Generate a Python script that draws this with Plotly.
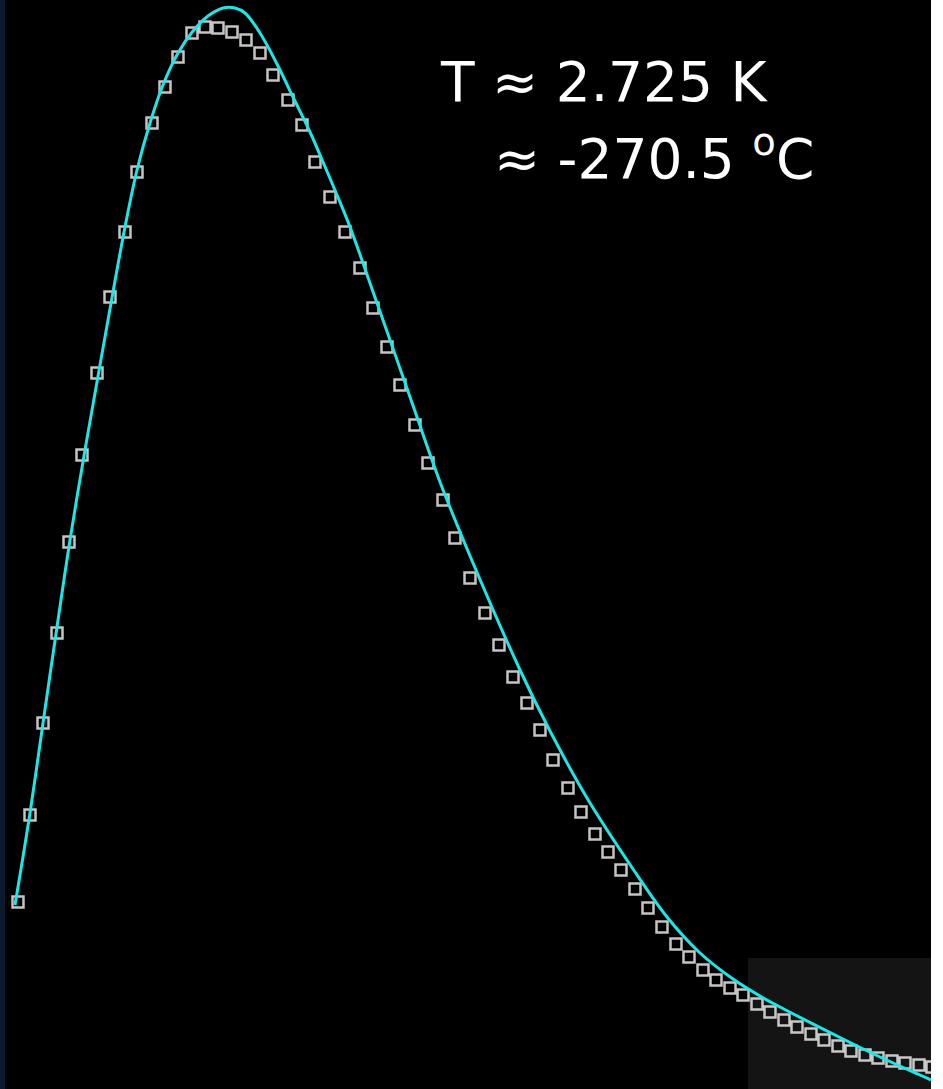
import plotly.graph_objects as go

# Measured spectrum (arbitrary frequency units, arbitrary intensity units)
freq_data = [18, 30, 43, 57, 69, 82, 97, 110, 125, 137, 152, 165, 178, 192, 205, 218, 232, 246,
             260, 273, 288, 302, 315, 330, 345, 360, 373, 387, 400, 415, 428, 443, 455, 470, 485,
             499, 513, 527, 540, 553, 568, 581, 595, 608, 621, 635, 648, 662, 676, 689, 703, 716,
             730, 743, 757, 770, 784, 797, 811, 824, 838, 851, 865, 878, 892, 905, 919, 932]
intensity_data = [183, 270, 362, 452, 543, 630, 712, 788, 853, 913, 962, 998, 1028, 1052, 1058, 1057,
                  1053, 1045, 1032, 1010, 985, 960, 923, 888, 853, 817, 777, 738, 700, 660, 622, 585,
                  547, 507, 472, 440, 408, 382, 355, 325, 297, 273, 251, 233, 215, 196, 177, 158, 141,
                  128, 115, 105, 97, 90, 81, 73, 65, 58, 51, 45, 39, 34, 30, 27, 24, 22, 20, 18]

# Blackbody curve (T = 2.725 K)
freq_fit = [15, 30, 43, 57, 70, 85, 100, 113, 125, 137, 150, 163, 178, 193, 208, 223, 235, 245, 260,
            277, 293, 310, 323, 337, 350, 377, 410, 440, 473, 520, 550, 587, 633, 667, 700,
            733, 760, 780, 843, 880, 920, 931]
intensity_fit = [180, 272, 362, 458, 545, 635, 720, 793, 858, 915, 962, 1000, 1032, 1054, 1069, 1077,
                 1077, 1072, 1052, 1021, 988, 953, 923, 890, 858, 782, 688, 603, 522, 415, 354, 287,
                 216, 168, 132, 106, 89, 78, 46, 28, 10, 5]

label_line1 = "T ≈ 2.725 K"
label_line2 = "≈ -270.5 <sup>o</sup>C"

fig = go.Figure()

fig.add_trace(go.Scatter(
    x=freq_data, y=intensity_data, mode="markers",
    marker=dict(symbol="square-open", size=11, color="rgba(230,230,230,0.85)",
                line=dict(width=2.5, color="rgba(230,230,230,0.85)")),
    hoverinfo="skip", showlegend=False))

fig.add_trace(go.Scatter(
    x=freq_fit, y=intensity_fit, mode="lines", line_shape="spline",
    line=dict(color="#1ee6e6", width=3),
    hoverinfo="skip", showlegend=False))

fig.add_annotation(x=438, y=1003, xref="x", yref="y", text=label_line1, showarrow=False,
                   xanchor="left", yanchor="middle",
                   font=dict(family="DejaVu Sans", size=55, color="white"))
fig.add_annotation(x=492, y=930, xref="x", yref="y", text=label_line2, showarrow=False,
                   xanchor="left", yanchor="middle",
                   font=dict(family="DejaVu Sans", size=55, color="white"))

# faint decorative background patches
fig.add_shape(type="rect", x0=748, x1=931, y0=-4, y1=127, layer="below",
              line=dict(width=0), fillcolor="#141414")
fig.add_shape(type="rect", x0=0, x1=5, y0=-4, y1=1085, layer="below",
              line=dict(width=0), fillcolor="#0c1a2c")

fig.update_xaxes(range=[0, 931], visible=False, showgrid=False, zeroline=False)
fig.update_yaxes(range=[-4, 1085], visible=False, showgrid=False, zeroline=False)

fig.update_layout(
    width=943, height=1089,
    margin=dict(l=0, r=12, t=0, b=0),
    paper_bgcolor="white", plot_bgcolor="black",
    showlegend=False,
)

fig.write_html("out.html", config={"displayModeBar": False},
               post_script="document.body.style.margin='0';document.body.style.overflow='hidden';")
